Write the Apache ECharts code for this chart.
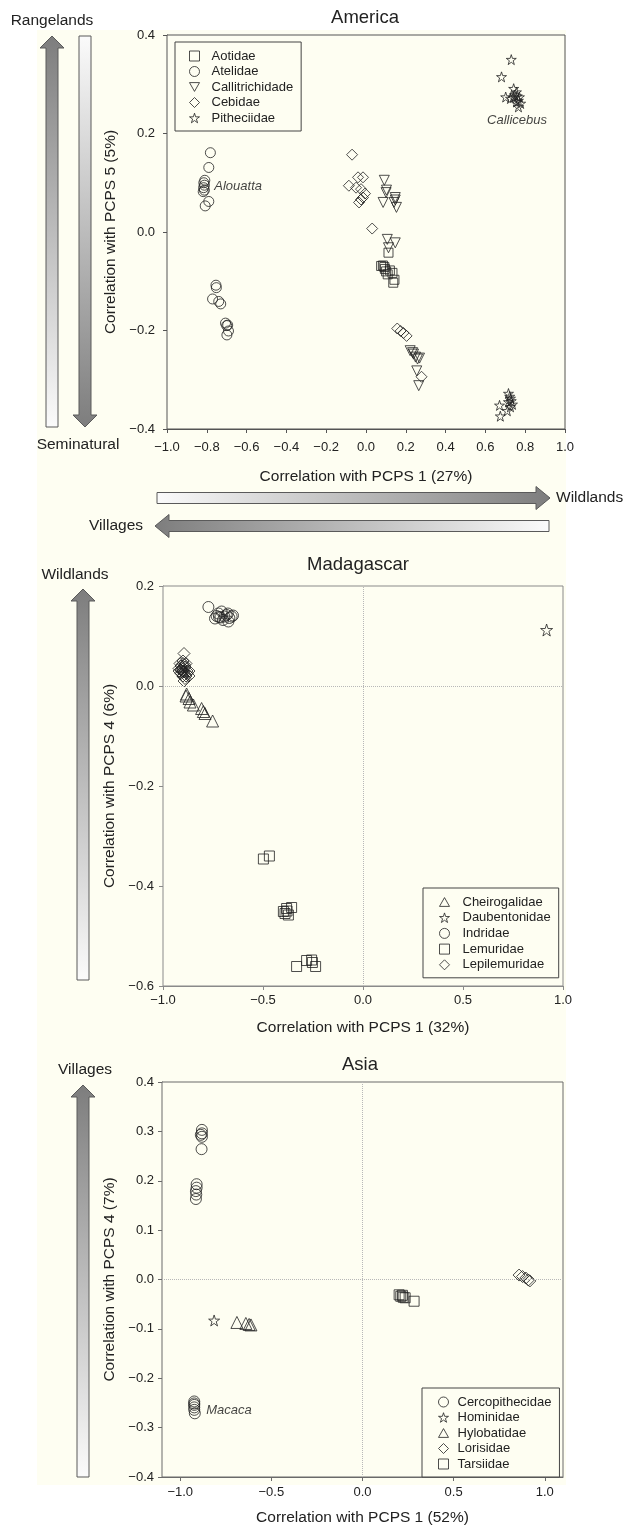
<!DOCTYPE html>
<html>
<head>
<meta charset="utf-8">
<script src="https://cdn.jsdelivr.net/npm/echarts@6/dist/echarts.min.js"></script>
<style>
html,body{margin:0;padding:0;background:#ffffff;}
#c{width:629px;height:1527px;}
</style>
</head>
<body>
<div id="c"></div>
<script>
// ---------------- DATA ----------------
// America (x: PCPS 1, y: PCPS 5)
const americaAotidae = [[0.113,-0.042],[0.076,-0.069],[0.085,-0.068],[0.092,-0.071],[0.101,-0.080],[0.109,-0.086],[0.133,-0.083],[0.137,-0.103],[0.143,-0.097],[0.095,-0.075],[0.120,-0.078]];
const americaAtelidae = [[-0.782,0.161],[-0.790,0.131],[-0.810,0.105],[-0.815,0.100],[-0.812,0.095],[-0.816,0.090],[-0.812,0.085],[-0.818,0.082],[-0.790,0.062],[-0.808,0.053],[-0.754,-0.108],[-0.752,-0.113],[-0.771,-0.136],[-0.740,-0.141],[-0.730,-0.146],[-0.706,-0.185],[-0.695,-0.189],[-0.691,-0.201],[-0.699,-0.209],[-0.700,-0.190]];
const americaCallitrichidade = [[0.092,0.105],[0.103,0.085],[0.101,0.080],[0.086,0.060],[0.147,0.070],[0.147,0.065],[0.153,0.050],[0.141,0.060],[0.107,-0.015],[0.147,-0.022],[0.113,-0.032],[0.222,-0.241],[0.234,-0.245],[0.239,-0.248],[0.249,-0.254],[0.259,-0.258],[0.269,-0.256],[0.255,-0.282],[0.265,-0.312]];
const americaCebidae = [[-0.070,0.157],[-0.086,0.094],[-0.040,0.111],[-0.015,0.111],[-0.050,0.090],[-0.025,0.087],[-0.005,0.078],[-0.015,0.070],[-0.035,0.060],[-0.025,0.066],[0.031,0.007],[0.157,-0.196],[0.174,-0.201],[0.188,-0.205],[0.204,-0.211],[0.279,-0.294]];
const americaPitheciidae = [[0.730,0.350],[0.681,0.315],[0.742,0.291],[0.756,0.284],[0.702,0.274],[0.726,0.271],[0.766,0.267],[0.746,0.278],[0.771,0.274],[0.777,0.261],[0.766,0.254],[0.756,0.264],[0.740,0.273],[0.760,0.276],[0.716,-0.328],[0.726,-0.338],[0.716,-0.345],[0.736,-0.350],[0.671,-0.352],[0.710,-0.363],[0.675,-0.374],[0.726,-0.355],[0.722,-0.334],[0.730,-0.343]];

// Madagascar (x: PCPS 1, y: PCPS 4)
const madaCheirogalidae = [[-0.882,-0.016],[-0.885,-0.020],[-0.870,-0.025],[-0.865,-0.032],[-0.848,-0.038],[-0.807,-0.045],[-0.798,-0.051],[-0.790,-0.055],[-0.752,-0.070],[-0.900,0.030],[-0.905,0.040]];
const madaDaubentonidae = [[0.918,0.112]];
const madaIndridae = [[-0.773,0.158],[-0.723,0.145],[-0.732,0.140],[-0.707,0.149],[-0.682,0.142],[-0.673,0.129],[-0.657,0.139],[-0.650,0.141],[-0.693,0.139],[-0.713,0.137],[-0.700,0.132],[-0.740,0.135],[-0.720,0.138],[-0.668,0.136],[-0.676,0.145]];
const madaLemuridae = [[-0.498,-0.346],[-0.468,-0.340],[-0.398,-0.451],[-0.382,-0.445],[-0.373,-0.458],[-0.357,-0.443],[-0.390,-0.455],[-0.380,-0.450],[-0.332,-0.561],[-0.282,-0.549],[-0.253,-0.553],[-0.257,-0.548],[-0.237,-0.561]];
const madaLepilemuridae = [[-0.895,0.065],[-0.900,0.045],[-0.910,0.040],[-0.920,0.035],[-0.900,0.030],[-0.890,0.038],[-0.880,0.030],[-0.910,0.025],[-0.900,0.020],[-0.890,0.015],[-0.880,0.025],[-0.870,0.030],[-0.900,0.050],[-0.920,0.030],[-0.895,0.010],[-0.885,0.045],[-0.870,0.020],[-0.905,0.035],[-0.915,0.045],[-0.895,0.028],[-0.885,0.020],[-0.910,0.032],[-0.892,0.042]];

// Asia (x: PCPS 1, y: PCPS 4)
const asiaCercopithecidae = [[-0.881,0.303],[-0.881,0.296],[-0.881,0.289],[-0.887,0.293],[-0.883,0.264],[-0.910,0.193],[-0.910,0.186],[-0.914,0.179],[-0.912,0.172],[-0.914,0.163],[-0.923,-0.247],[-0.923,-0.251],[-0.923,-0.254],[-0.923,-0.259],[-0.923,-0.264],[-0.920,-0.271]];
const asiaHominidae = [[-0.814,-0.083]];
const asiaHylobatidae = [[-0.689,-0.087],[-0.640,-0.089],[-0.622,-0.091],[-0.612,-0.092]];
const asiaLorisidae = [[0.859,0.009],[0.878,0.006],[0.896,0.003],[0.910,-0.001],[0.918,-0.003]];
const asiaTarsiidae = [[0.201,-0.031],[0.210,-0.034],[0.219,-0.032],[0.223,-0.036],[0.234,-0.037],[0.283,-0.044]];

// Annotations (genus labels, data coordinates)
const americaNotes = [{name:'Alouatta', value:[-0.765,0.093], pos:'right'},{name:'Callicebus', value:[0.759,0.227], pos:'inside'}];
const asiaNotes = [{name:'Macaca', value:[-0.86,-0.266], pos:'right'}];

// Axis tick labels
const asiaXTicks = [-1.0,-0.5,0.0,0.5,1.0];

// ---------------- STYLE ----------------
const FONT = "'Liberation Sans', Arial, Helvetica, sans-serif";
const CREAM = '#fefef2';
const INK = '#222222';
const STAR = 'path://M50,2 L61,36 L97,36 L68,57 L79,92 L50,71 L21,92 L32,57 L3,36 L39,36 Z';
const TRI_DOWN = 'path://M0,0 L100,0 L50,88 Z';
const TRI_UP = 'path://M50,0 L100,88 L0,88 Z';

function fmt(v){
  const n = Math.abs(v) < 1e-9 ? 0 : v;
  return n.toFixed(1).replace('-', '\u2212');
}

function mkSeries(name, data, gi, symbol, size){
  return {
    name: name, type:'scatter', xAxisIndex: gi, yAxisIndex: gi,
    data: data, symbol: symbol, symbolSize: size,
    itemStyle: {color:'rgba(0,0,0,0)', borderColor: INK, borderWidth: 1},
    emphasis: {disabled: true}, animation: false
  };
}

function noteSeries(notes, gi){
  return {
    type:'scatter', xAxisIndex: gi, yAxisIndex: gi, symbolSize: 1, silent: true,
    data: notes.map(n => ({name:n.name, value:n.value, label:{position:n.pos}})),
    itemStyle:{color:'rgba(0,0,0,0)', borderWidth:0},
    label:{show:true, formatter:'{b}', fontStyle:'italic', fontSize:13, color:'#111', fontFamily:FONT, distance:0},
    emphasis:{disabled:true},
    animation:false
  };
}

function zeroLines(s){
  s.markLine = {
    silent: true, symbol:['none','none'], label:{show:false},
    lineStyle:{type:'dotted', color:'#b8b8b8', width:1},
    emphasis:{disabled:true},
    data:[{xAxis:0},{yAxis:0}], animation:false
  };
  return s;
}

function xAxisCfg(gi, min, max, interval, name, nameGap, margin, lineColor, custom){
  const a = {
    gridIndex: gi, type:'value', min:min, max:max,
    axisLine:{show:true, onZero:false, lineStyle:{color:lineColor, width:1}},
    axisTick:{show:true, inside:false, length:4, lineStyle:{color:lineColor}},
    axisLabel:{formatter: fmt, fontSize:13, color:INK, fontFamily:FONT, margin:margin},
    splitLine:{show:false},
    name:name, nameLocation:'middle', nameGap:nameGap,
    nameTextStyle:{fontSize:15.5, color:INK, fontFamily:FONT}
  };
  if (interval) a.interval = interval;
  if (custom){ a.axisLabel.customValues = custom; a.axisTick.customValues = custom; }
  return a;
}
function yAxisCfg(gi, min, max, interval, name, nameGap, margin, lineColor){
  return {
    gridIndex: gi, type:'value', min:min, max:max, interval:interval,
    axisLine:{show:true, onZero:false, lineStyle:{color:lineColor, width:1}},
    axisTick:{show:true, inside:false, length:4, lineStyle:{color:lineColor}},
    axisLabel:{formatter: fmt, fontSize:13, color:INK, fontFamily:FONT, margin:margin},
    splitLine:{show:false},
    name:name, nameLocation:'middle', nameGap:nameGap,
    nameTextStyle:{fontSize:15.5, color:INK, fontFamily:FONT}
  };
}

function legendCfg(left, top, padLeft, textPad, gap, names){
  return {
    orient:'vertical', left:left, top:top, padding:[7.5,8,6.5,padLeft],
    itemGap:gap, itemWidth:10, itemHeight:10,
    borderColor:'#444', borderWidth:1, backgroundColor: CREAM,
    itemStyle:{color:'rgba(0,0,0,0)', borderColor:INK, borderWidth:1},
    textStyle:{fontSize:13, color:INK, fontFamily:FONT, padding:[0,0,0,textPad]},
    selectedMode:false, data:names
  };
}

// arrows (decoration)
function vArrow(cx, top, bottom, up){
  const hw = 12, sw = 6, hh = 12;
  let pts;
  if (up){
    pts = [[cx,top],[cx+hw,top+hh],[cx+sw,top+hh],[cx+sw,bottom],[cx-sw,bottom],[cx-sw,top+hh],[cx-hw,top+hh]];
  } else {
    pts = [[cx-sw,top],[cx+sw,top],[cx+sw,bottom-hh],[cx+hw,bottom-hh],[cx,bottom],[cx-hw,bottom-hh],[cx-sw,bottom-hh]];
  }
  const dark = '#7d7d7d', light = '#fbfbfb';
  return {
    type:'polygon', shape:{points:pts}, z:5,
    style:{
      fill: new echarts.graphic.LinearGradient(0,0,0,1,[{offset:0,color: up?dark:light},{offset:1,color: up?light:dark}]),
      stroke:'#5a5a5a', lineWidth:1
    }
  };
}
function hArrow(left, right, cy, toRight){
  const hw = 11.5, sw = 5.5, hl = 14;
  let pts;
  if (toRight){
    pts = [[left,cy-sw],[right-hl,cy-sw],[right-hl,cy-hw],[right,cy],[right-hl,cy+hw],[right-hl,cy+sw],[left,cy+sw]];
  } else {
    pts = [[left,cy],[left+hl,cy-hw],[left+hl,cy-sw],[right,cy-sw],[right,cy+sw],[left+hl,cy+sw],[left+hl,cy+hw]];
  }
  const dark = '#7d7d7d', light = '#fbfbfb';
  return {
    type:'polygon', shape:{points:pts}, z:5,
    style:{
      fill: new echarts.graphic.LinearGradient(0,0,1,0,[{offset:0,color: toRight?light:dark},{offset:1,color: toRight?dark:light}]),
      stroke:'#5a5a5a', lineWidth:1
    }
  };
}
function txt(text, x, y, align, size){
  return {type:'text', x:x, y:y, z:6, style:{text:text, fill:INK, font: size+'px '+FONT, textAlign:align, textVerticalAlign:'middle'}};
}

const americaNames = ['Aotidae','Atelidae','Callitrichidade','Cebidae','Pitheciidae'];
const madaNames = ['Cheirogalidae','Daubentonidae','Indridae','Lemuridae','Lepilemuridae'];
const asiaNames = ['Cercopithecidae','Hominidae','Hylobatidae','Lorisidae','Tarsiidae'];

const option = {
  animation:false,
  backgroundColor:'#ffffff',
  grid:[
    {left:167, top:35, width:398, height:394, show:true, backgroundColor:CREAM, borderColor:'#555', borderWidth:1, z:1},
    {left:163, top:586, width:400, height:400, show:true, backgroundColor:CREAM, borderColor:'#8a8a8a', borderWidth:1, z:1},
    {left:162, top:1082, width:401, height:399, show:true, backgroundColor:CREAM, borderColor:'#6a6a6a', borderWidth:1, z:1}
  ],
  xAxis:[
    xAxisCfg(0,-1,1,0.2,'Correlation with PCPS 1 (27%)',40,12,'#555'),
    xAxisCfg(1,-1,1,0.5,'Correlation with PCPS 1 (32%)',34,8,'#8a8a8a'),
    xAxisCfg(2,-1.1,1.1,null,'Correlation with PCPS 1 (52%)',33,9,'#6a6a6a', asiaXTicks)
  ],
  yAxis:[
    yAxisCfg(0,-0.4,0.4,0.2,'Correlation with PCPS 5 (5%)',42,12,'#555'),
    yAxisCfg(1,-0.6,0.2,0.2,'Correlation with PCPS 4 (6%)',37,9,'#8a8a8a'),
    yAxisCfg(2,-0.4,0.4,0.1,'Correlation with PCPS 4 (7%)',36,8,'#6a6a6a')
  ],
  legend:[
    legendCfg(175,42,14,7,2.5,americaNames),
    legendCfg(423,888,16,8,2.7,madaNames),
    legendCfg(422,1388,16,4,2.5,asiaNames)
  ],
  series:[
    mkSeries('Aotidae', americaAotidae, 0, 'rect', 9),
    mkSeries('Atelidae', americaAtelidae, 0, 'circle', 10),
    mkSeries('Callitrichidade', americaCallitrichidade, 0, TRI_DOWN, 10),
    mkSeries('Cebidae', americaCebidae, 0, 'diamond', 11),
    mkSeries('Pitheciidae', americaPitheciidae, 0, STAR, 10),
    noteSeries(americaNotes, 0),

    zeroLines(mkSeries('Cheirogalidae', madaCheirogalidae, 1, TRI_UP, 12)),
    mkSeries('Daubentonidae', madaDaubentonidae, 1, STAR, 12),
    mkSeries('Indridae', madaIndridae, 1, 'circle', 11),
    mkSeries('Lemuridae', madaLemuridae, 1, 'rect', 10),
    mkSeries('Lepilemuridae', madaLepilemuridae, 1, 'diamond', 12),

    zeroLines(mkSeries('Cercopithecidae', asiaCercopithecidae, 2, 'circle', 11)),
    mkSeries('Hominidae', asiaHominidae, 2, STAR, 11),
    mkSeries('Hylobatidae', asiaHylobatidae, 2, TRI_UP, 12),
    mkSeries('Lorisidae', asiaLorisidae, 2, 'diamond', 12),
    mkSeries('Tarsiidae', asiaTarsiidae, 2, 'rect', 10),
    noteSeries(asiaNotes, 2)
  ],
  graphic:[
    {type:'rect', shape:{x:37, y:30, width:529, height:1455}, style:{fill:CREAM}, z:-10, silent:true},
    // titles
    txt('America', 365, 18, 'center', 18.5),
    txt('Madagascar', 358, 565, 'center', 18.5),
    txt('Asia', 360, 1065, 'center', 18.5),
    // America side arrows
    vArrow(52, 36, 427, true),
    vArrow(85, 36, 427, false),
    txt('Rangelands', 52, 21, 'center', 15.5),
    txt('Seminatural', 78, 445, 'center', 15.5),
    hArrow(157, 550, 498, true),
    hArrow(155, 549, 526, false),
    txt('Wildlands', 556, 498, 'left', 15.5),
    txt('Villages', 143, 526, 'right', 15.5),
    // Madagascar
    vArrow(83, 589, 980, true),
    txt('Wildlands', 75, 575, 'center', 15.5),
    // Asia
    vArrow(83, 1085, 1477, true),
    txt('Villages', 85, 1070, 'center', 15.5)
  ]
};

const chart = echarts.init(document.getElementById('c'), null, {renderer:'canvas', width:629, height:1527});
chart.setOption(option);
</script>
</body>
</html>
